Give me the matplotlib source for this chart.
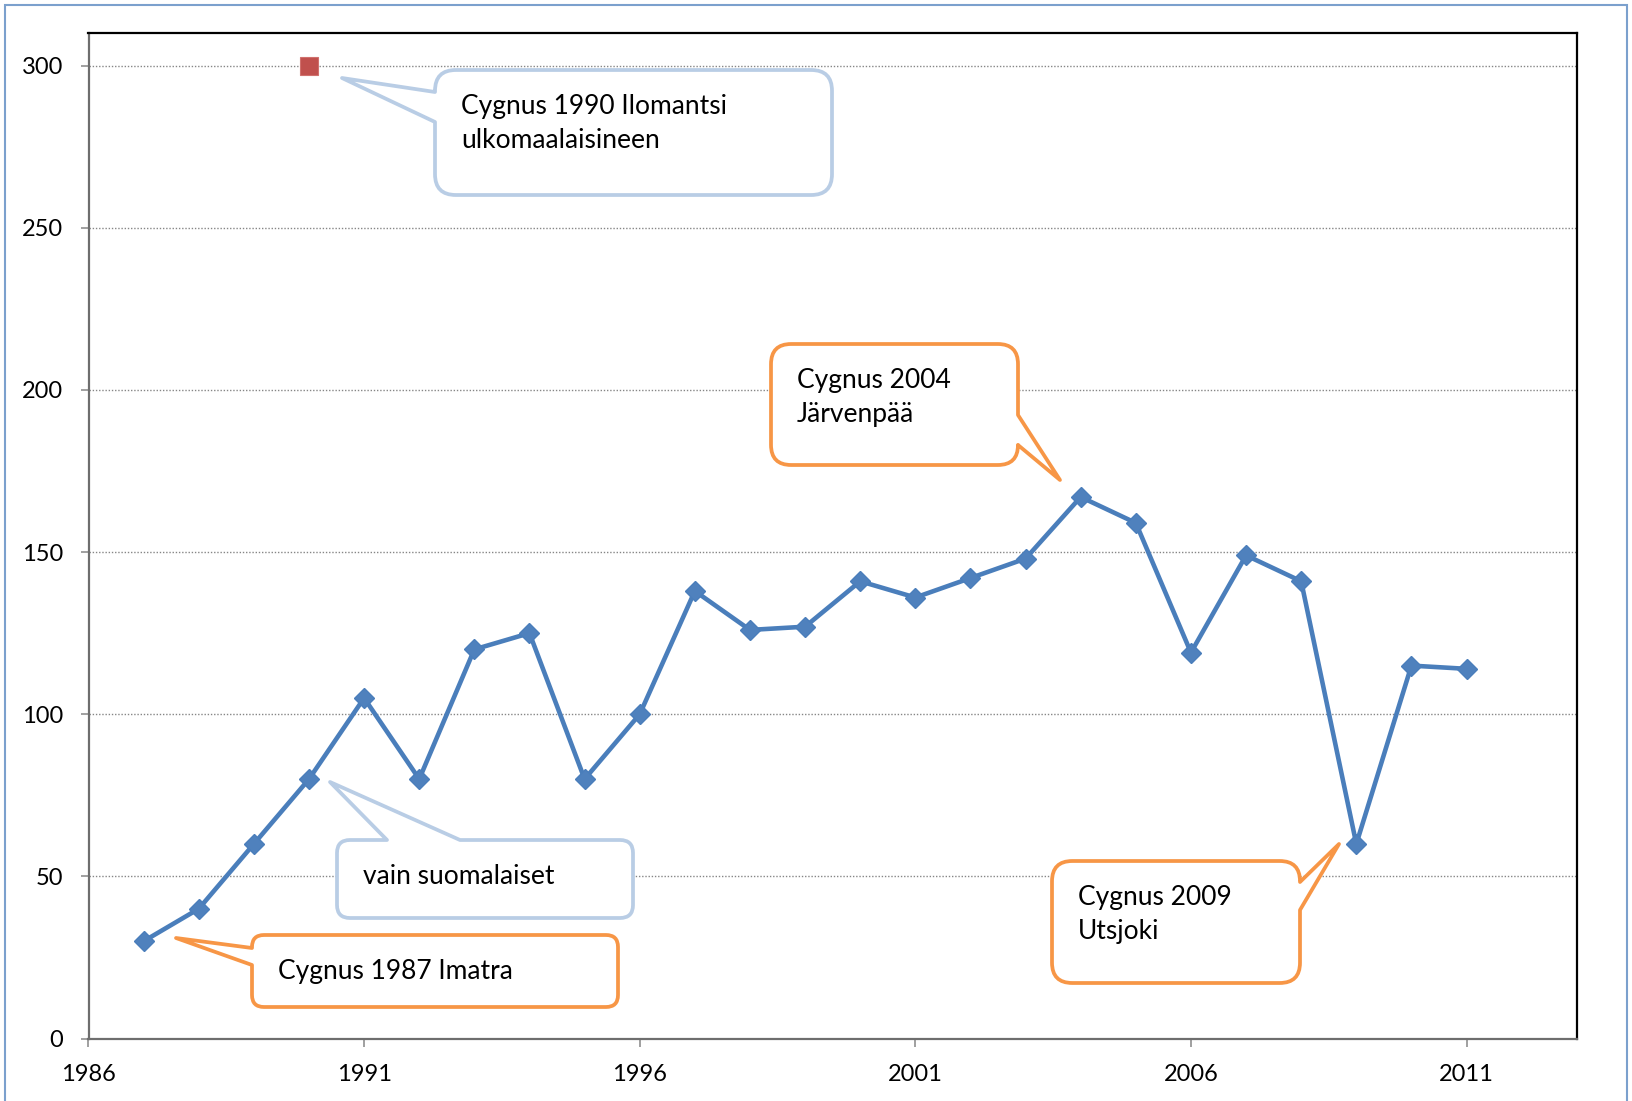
import matplotlib
matplotlib.use("Agg")
import matplotlib.pyplot as plt
from matplotlib.path import Path
from matplotlib.patches import PathPatch, Rectangle
from matplotlib.transforms import IdentityTransform

# Cygnus participants per year
years = [1987, 1988, 1989, 1990, 1991, 1992, 1993, 1994, 1995, 1996, 1997, 1998, 1999,
         2000, 2001, 2002, 2003, 2004, 2005, 2006, 2007, 2008, 2009, 2010, 2011]
participants = [30, 40, 60, 80, 105, 80, 120, 125, 80, 100, 138, 126, 127,
                141, 136, 142, 148, 167, 159, 119, 149, 141, 60, 115, 114]

# 1990 Ilomantsi including foreigners
special_year = [1990]
special_value = [300]

x_ticks = [1986, 1991, 1996, 2001, 2006, 2011]
y_ticks = [0, 50, 100, 150, 200, 250, 300]

W, H = 1632, 1101
BLUE_EDGE = "#B9CDE5"
ORANGE = "#F79646"

# callout layout in image pixels (y down): text, box (l, t, r, b), side, wedge base, tip, colour
callouts = [
    ("Cygnus 1990 Ilomantsi\nulkomaalaisineen", (435, 70, 832, 195), "left", (92, 122), (342, 78), BLUE_EDGE),
    ("vain suomalaiset", (337, 840, 633, 918), "top", (387, 460), (330, 782), BLUE_EDGE),
    ("Cygnus 1987 Imatra", (252, 935, 618, 1007), "left", (948, 965), (176, 938), ORANGE),
    ("Cygnus 2004\nJärvenpää", (771, 344, 1018, 465), "right", (415, 445), (1060, 480), ORANGE),
    ("Cygnus 2009\nUtsjoki", (1052, 861, 1300, 983), "right", (882, 910), (1339, 844), ORANGE),
]


def bubble_path(box, side, base, tip):
    x0, y0, x1, y1 = box
    r = min(x1 - x0, y1 - y0) / 6
    verts, codes = [(x0 + r, y0)], [Path.MOVETO]

    def line(p):
        verts.append(p)
        codes.append(Path.LINETO)

    def curve(c, p):
        verts.extend([c, p])
        codes.extend([Path.CURVE3, Path.CURVE3])

    if side == "top":
        line((base[0], y0)); line(tip); line((base[1], y0))
    line((x1 - r, y0)); curve((x1, y0), (x1, y0 + r))
    if side == "right":
        line((x1, base[0])); line(tip); line((x1, base[1]))
    line((x1, y1 - r)); curve((x1, y1), (x1 - r, y1))
    if side == "bottom":
        line((base[1], y1)); line(tip); line((base[0], y1))
    line((x0 + r, y1)); curve((x0, y1), (x0, y1 - r))
    if side == "left":
        line((x0, base[1])); line(tip); line((x0, base[0]))
    line((x0, y0 + r)); curve((x0, y0), (x0 + r, y0))
    verts.append((x0 + r, y0))
    codes.append(Path.CLOSEPOLY)
    return Path([(x, H - y) for x, y in verts], codes)


plt.rcParams["font.family"] = ["Lato", "DejaVu Sans"]

fig = plt.figure(figsize=(W / 100, H / 100), dpi=100)
ax = fig.add_axes([88.5 / W, 1 - 1038.5 / H, (1576.8 - 88.5) / W, (1038.5 - 33.3) / H])

ax.plot(years, participants, color="#4A7EBB", lw=3.3, marker="D", markersize=10.5,
        markerfacecolor="#4F81BD", markeredgecolor="#4A7EBB", markeredgewidth=1, zorder=3)
ax.plot(special_year, special_value, ls="none", marker="s", markersize=12.5,
        markerfacecolor="#C0504D", markeredgecolor="#D0706D", markeredgewidth=0.8, zorder=3)

ax.set_xlim(1986, 2013)
ax.set_ylim(0, 310)
ax.set_xticks(x_ticks)
ax.set_yticks(y_ticks)
ax.yaxis.grid(True, color="#868686", lw=1, linestyle=(0, (1, 1.3)))
ax.set_axisbelow(True)

for s in ["left", "bottom"]:
    ax.spines[s].set_color("#6E6E6E")
    ax.spines[s].set_linewidth(1.6)
for s in ["top", "right"]:
    ax.spines[s].set_color("black")
    ax.spines[s].set_linewidth(1.6)
ax.tick_params(direction="out", length=5.8, width=1.1, color="#868686",
               labelsize=17, pad=12.5)

# outer chart frame
fig.add_artist(Rectangle((5, -10), W - 10, H - 4.5 + 10, transform=IdentityTransform(),
                         fill=False, edgecolor="#7BA0CD", lw=1.5))

for text, box, side, base, tip, col in callouts:
    fig.add_artist(PathPatch(bubble_path(box, side, base, tip), transform=IdentityTransform(),
                             facecolor="white", edgecolor=col, lw=2.7, joinstyle="round"))
    for i, ln in enumerate(text.split("\n")):
        fig.text((box[0] + 26) / W, 1 - (box[1] + 44 + 34 * i) / H, ln,
                 fontsize=19, ha="left", va="baseline")

fig.savefig("out.png", dpi=100)
